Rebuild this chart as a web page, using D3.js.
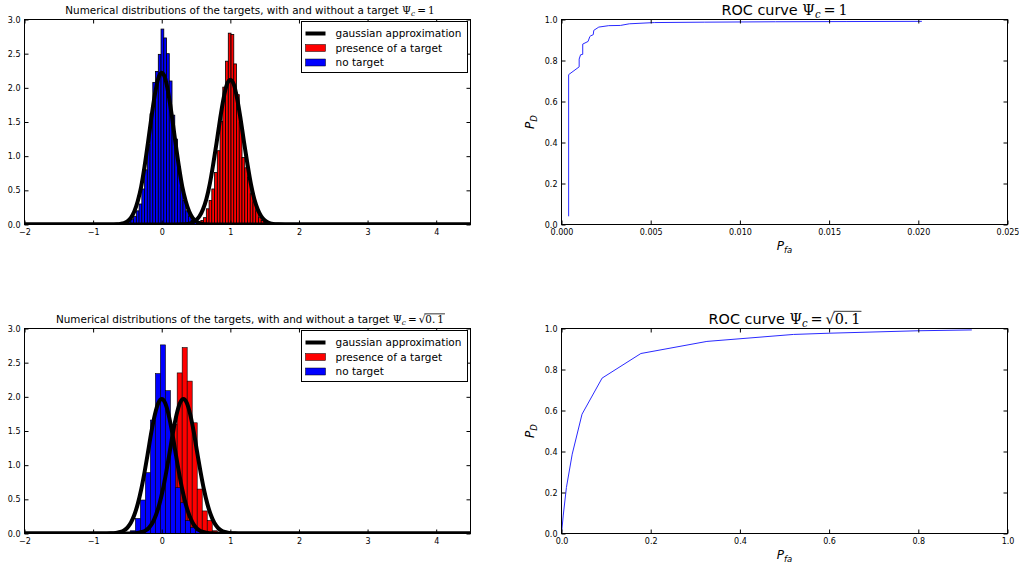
<!DOCTYPE html>
<html><head><meta charset="utf-8">
<script src="https://cdn.jsdelivr.net/npm/d3@7"></script>
<style>
body{margin:0;background:#fff}
svg{display:block}
text{font-family:"DejaVu Sans",sans-serif}
</style>
</head><body>
<svg id="c" width="1019" height="565"></svg>
<script>
// ---------------- DATA ----------------
const histXTicks = [-2, -1, 0, 1, 2, 3, 4];
const histYTicks = [0, 0.5, 1, 1.5, 2, 2.5, 3];
const rocTopXTicks = [0, 0.005, 0.01, 0.015, 0.02, 0.025];
const rocBottomXTicks = [0, 0.2, 0.4, 0.6, 0.8, 1.0];
const rocYTicks = [0, 0.2, 0.4, 0.6, 0.8, 1.0];
const legendLabels = ["gaussian approximation", "presence of a target", "no target"];

// top histogram (Psi_c = 1), bins of width 0.04
const topBinWidth = 0.04;
const topRedStart = 0.57;
const topRedHeights = [0.06, 0.10, 0.23, 0.35, 0.52, 0.76, 1.08, 1.51, 2.01, 2.39, 2.80, 2.78, 2.35, 1.90, 1.50, 0.98, 0.83, 0.69, 0.45, 0.33, 0.20, 0.10, 0.06, 0.03];
const topBlueStart = -0.61;
const topBlueHeights = [0.03, 0.03, 0.04, 0.05, 0.08, 0.12, 0.20, 0.30, 0.52, 0.80, 1.17, 1.62, 2.08, 2.24, 2.49, 2.86, 2.73, 2.50, 2.10, 1.60, 1.25, 0.85, 0.55, 0.35, 0.20, 0.12, 0.06, 0.04, 0.02];

// bottom histogram (Psi_c = sqrt(0.1)), bins of width 0.073
const bottomBinWidth = 0.073;
const bottomRedStart = -0.359;
const bottomRedHeights = [0.02, 0.05, 0.10, 0.20, 0.40, 0.70, 1.10, 1.60, 2.35, 2.72, 2.23, 1.62, 0.65, 0.33, 0.19, 0.04];
const bottomBlueStart = -0.457;
const bottomBlueHeights = [0.04, 0.22, 0.49, 0.89, 1.66, 2.34, 2.76, 2.09, 1.30, 0.67, 0.45, 0.19, 0.09, 0.04];

// gaussian approximation curves
const topGaussBlueX = [-2, -0.8, -0.7, -0.65, -0.6, -0.55, -0.5, -0.45, -0.4, -0.35, -0.3, -0.25, -0.2, -0.15, -0.1, -0.05, 0, 0.05, 0.1, 0.15, 0.2, 0.25, 0.3, 0.35, 0.4, 0.45, 0.5, 0.55, 0.6, 0.65, 0.7, 0.8, 4.5];
const topGaussBlueY = [0, 0, 0.001, 0.003, 0.009, 0.021, 0.047, 0.098, 0.19, 0.34, 0.55, 0.85, 1.20, 1.57, 1.90, 2.14, 2.22, 2.14, 1.90, 1.57, 1.20, 0.85, 0.55, 0.34, 0.19, 0.098, 0.047, 0.021, 0.009, 0.003, 0.001, 0, 0];
const topGaussRedX = [-2, 0.2, 0.3, 0.35, 0.4, 0.45, 0.5, 0.55, 0.6, 0.65, 0.7, 0.75, 0.8, 0.85, 0.9, 0.95, 1, 1.05, 1.1, 1.15, 1.2, 1.25, 1.3, 1.35, 1.4, 1.45, 1.5, 1.55, 1.6, 1.65, 1.7, 1.8, 4.5];
const topGaussRedY = [0, 0, 0.002, 0.005, 0.013, 0.029, 0.062, 0.12, 0.22, 0.37, 0.59, 0.88, 1.20, 1.54, 1.84, 2.05, 2.12, 2.05, 1.84, 1.54, 1.20, 0.88, 0.59, 0.37, 0.22, 0.12, 0.062, 0.029, 0.013, 0.005, 0.002, 0, 0];
const bottomGaussBlueX = [-2, -0.8, -0.75, -0.7, -0.65, -0.6, -0.55, -0.5, -0.45, -0.4, -0.35, -0.3, -0.25, -0.2, -0.15, -0.1, -0.05, 0, 0.05, 0.1, 0.15, 0.2, 0.25, 0.3, 0.35, 0.4, 0.45, 0.5, 0.55, 0.6, 0.65, 0.7, 0.75, 0.8, 4.5];
const bottomGaussBlueY = [0, 0.001, 0.002, 0.004, 0.01, 0.022, 0.045, 0.087, 0.157, 0.27, 0.43, 0.64, 0.90, 1.19, 1.49, 1.74, 1.91, 1.97, 1.91, 1.74, 1.49, 1.19, 0.90, 0.64, 0.43, 0.27, 0.157, 0.087, 0.045, 0.022, 0.01, 0.004, 0.002, 0.001, 0];
const bottomGaussRedX = [-2, -0.484, -0.434, -0.384, -0.334, -0.284, -0.234, -0.184, -0.134, -0.084, -0.034, 0.016, 0.066, 0.116, 0.166, 0.216, 0.266, 0.316, 0.366, 0.416, 0.466, 0.516, 0.566, 0.616, 0.666, 0.716, 0.766, 0.816, 0.866, 0.916, 0.966, 1.016, 1.066, 1.116, 4.5];
const bottomGaussRedY = [0, 0.001, 0.002, 0.004, 0.01, 0.022, 0.045, 0.087, 0.157, 0.27, 0.43, 0.64, 0.90, 1.19, 1.49, 1.74, 1.91, 1.97, 1.91, 1.74, 1.49, 1.19, 0.90, 0.64, 0.43, 0.27, 0.157, 0.087, 0.045, 0.022, 0.01, 0.004, 0.002, 0.001, 0];

// ROC curves
const rocTopPfa = [0.0004, 0.0004, 0.00099, 0.00099, 0.00107, 0.00119, 0.00119, 0.00149, 0.00159, 0.00163, 0.00178, 0.00181, 0.00209, 0.00265, 0.0033, 0.0038, 0.0052, 0.008, 0.012, 0.016, 0.0202];
const rocTopPd  = [0.04, 0.731, 0.769, 0.807, 0.828, 0.83, 0.880, 0.893, 0.917, 0.92, 0.926, 0.947, 0.963, 0.970, 0.971, 0.979, 0.985, 0.987, 0.989, 0.990, 0.991];
const rocBottomPfa = [0, 0.004, 0.011, 0.024, 0.046, 0.091, 0.178, 0.326, 0.52, 0.6, 0.8, 0.92];
const rocBottomPd  = [0, 0.09, 0.224, 0.387, 0.582, 0.758, 0.878, 0.937, 0.971, 0.977, 0.989, 0.993];

// ---------------- DRAW ----------------
const svg = d3.select("#c");
const TICK_FS = 8;

function frameAxes(g, x, y, xt, yt, xfmt, yfmt, L, T, R, B) {
  const ax = (gen, tx, ty, fmt, pad) => {
    const a = g.append("g").attr("transform", `translate(${tx},${ty})`)
      .call(gen.tickSizeInner(-4).tickSizeOuter(0).tickPadding(pad).tickFormat(fmt));
    a.select(".domain").remove();
    a.attr("font-family", "DejaVu Sans").attr("font-size", TICK_FS);
    a.selectAll("line").attr("stroke", "#000");
    a.selectAll("text").attr("fill", "#000");
    return a;
  };
  ax(d3.axisBottom(x).tickValues(xt), 0, B, xfmt, 5);
  ax(d3.axisTop(x).tickValues(xt), 0, T, () => "", 4);
  ax(d3.axisLeft(y).tickValues(yt), L, 0, yfmt, 4);
  ax(d3.axisRight(y).tickValues(yt), R, 0, () => "", 4);
  g.append("rect").attr("x", L).attr("y", T).attr("width", R - L).attr("height", B - T)
    .attr("fill", "none").attr("stroke", "#000").attr("stroke-width", 1);
}

// title: prefix in sans + math part (Psi_c = rhs)
function mathTitle(cx, baseline, prefix, fs, rhs, sqrt) {
  const t = svg.append("text").attr("x", 0).attr("y", baseline).attr("font-size", fs).attr("fill", "#000");
  t.append("tspan").text(prefix);
  t.append("tspan").attr("font-family", "DejaVu Serif").text("Ψ");
  t.append("tspan").attr("font-family", "DejaVu Serif").attr("font-style", "italic")
    .attr("font-size", fs * 0.7).attr("dy", fs * 0.22).text("c");
  t.append("tspan").attr("font-family", "DejaVu Serif").attr("dy", -fs * 0.22).text(sqrt ? "\u2009=\u2009√" : "\u2009=\u20091");
  if (sqrt) t.append("tspan").attr("font-family", "DejaVu Serif").text(rhs);
  const w = t.node().getComputedTextLength();
  t.attr("x", cx - w / 2);
  if (sqrt) {
    const n = t.node().getNumberOfChars();
    const k = rhs.length;
    const s = t.node().getStartPositionOfChar(n - k);
    const e = t.node().getEndPositionOfChar(n - 1);
    svg.append("line").attr("x1", s.x - 1).attr("x2", e.x + 1)
      .attr("y1", baseline - fs * 0.88).attr("y2", baseline - fs * 0.88)
      .attr("stroke", "#000").attr("stroke-width", 0.8);
  }
}

function histPanel(o) {
  const L = 24.5, R = 470.5, T = o.top + 0.5, B = o.top + 205.5;
  const x = d3.scaleLinear().domain([-2, 4.5]).range([L, R]);
  const y = d3.scaleLinear().domain([0, 3]).range([B, T]);
  const g = svg.append("g");
  const clipId = "clip" + o.id;
  g.append("clipPath").attr("id", clipId).append("rect")
    .attr("x", L).attr("y", T).attr("width", R - L).attr("height", B - T);
  const pg = g.append("g").attr("clip-path", `url(#${clipId})`);
  const bars = (start, w, hs, color) => {
    pg.append("g").selectAll("rect").data(hs).join("rect")
      .attr("x", (d, i) => x(start + i * w))
      .attr("width", (d, i) => x(start + (i + 1) * w) - x(start + i * w))
      .attr("y", d => y(d)).attr("height", d => y(0) - y(d))
      .attr("fill", color).attr("stroke", "#000").attr("stroke-width", o.edge);
  };
  bars(o.redStart, o.binW, o.redH, "#ff0000");
  bars(o.blueStart, o.binW, o.blueH, "#0000ff");
  const line = d3.line().x(d => x(d[0])).y(d => y(d[1])).curve(d3.curveMonotoneX);
  [[o.gbx, o.gby], [o.grx, o.gry]].forEach(([xs, ys]) => {
    pg.append("path").datum(xs.map((v, i) => [v, ys[i]])).attr("d", line)
      .attr("fill", "none").attr("stroke", "#000").attr("stroke-width", 4).attr("stroke-linejoin", "round");
  });
  frameAxes(g, x, y, histXTicks, histYTicks, d3.format(""), d3.format(".1f"), L, T, R, B);
  // legend
  const lx = 301.5, ly = o.top + 2.5;
  const lg = g.append("g");
  lg.append("rect").attr("x", lx).attr("y", ly).attr("width", 166).attr("height", 51)
    .attr("fill", "#fff").attr("stroke", "#000").attr("stroke-width", 1);
  const rowY = [ly + 12, ly + 26.5, ly + 41];
  lg.append("line").attr("x1", lx + 4).attr("x2", lx + 24).attr("y1", rowY[0]).attr("y2", rowY[0])
    .attr("stroke", "#000").attr("stroke-width", 4);
  lg.append("rect").attr("x", lx + 4).attr("y", rowY[1] - 3.5).attr("width", 20).attr("height", 7)
    .attr("fill", "#ff0000").attr("stroke", "#000").attr("stroke-width", 0.5);
  lg.append("rect").attr("x", lx + 4).attr("y", rowY[2] - 3.5).attr("width", 20).attr("height", 7)
    .attr("fill", "#0000ff").attr("stroke", "#000").attr("stroke-width", 0.5);
  legendLabels.forEach((s, i) => {
    lg.append("text").attr("x", lx + 34).attr("y", rowY[i]).attr("dy", "0.36em")
      .attr("font-size", 10.5).attr("fill", "#000").text(s);
  });
  mathTitle(250, o.top - 5, "Numerical distributions of the targets, with and without a target ", 10.4, o.rhs, o.sqrt);
}

function rocPanel(o) {
  const L = 561.5, R = 1007.5, T = o.top + 0.5, B = o.top + 205.5;
  const x = d3.scaleLinear().domain(o.xDomain).range([L, R]);
  const y = d3.scaleLinear().domain([0, 1]).range([B, T]);
  const g = svg.append("g");
  g.append("path").datum(o.px.map((v, i) => [v, o.py[i]]))
    .attr("d", d3.line().x(d => x(d[0])).y(d => y(d[1])))
    .attr("fill", "none").attr("stroke", "#2a2aff").attr("stroke-width", 1);
  frameAxes(g, x, y, o.xTicks, rocYTicks, d3.format(o.xfmt), d3.format(".1f"), L, T, R, B);
  // axis labels
  const yl = g.append("text").attr("transform", `translate(534,${(T + B) / 2}) rotate(-90)`)
    .attr("text-anchor", "middle").attr("font-family", "DejaVu Serif").attr("font-style", "italic")
    .attr("font-size", 12).attr("fill", "#000");
  yl.append("tspan").text("P");
  yl.append("tspan").attr("font-size", 8.5).attr("dy", 3).text("D");
  const xl = g.append("text").attr("x", (L + R) / 2).attr("y", B + 25)
    .attr("text-anchor", "middle").attr("font-family", "DejaVu Serif").attr("font-style", "italic")
    .attr("font-size", 12).attr("fill", "#000");
  xl.append("tspan").text("P");
  xl.append("tspan").attr("font-size", 8.5).attr("dy", 3).text("fa");
  mathTitle((L + R) / 2, o.top - 4, "ROC curve ", 14.4, o.rhs, o.sqrt);
}

histPanel({id: "a", top: 19, binW: topBinWidth, edge: 0.8, redStart: topRedStart, redH: topRedHeights,
  blueStart: topBlueStart, blueH: topBlueHeights, gbx: topGaussBlueX, gby: topGaussBlueY,
  grx: topGaussRedX, gry: topGaussRedY, rhs: "1", sqrt: false});
histPanel({id: "b", top: 328, binW: bottomBinWidth, edge: 0.6, redStart: bottomRedStart, redH: bottomRedHeights,
  blueStart: bottomBlueStart, blueH: bottomBlueHeights, gbx: bottomGaussBlueX, gby: bottomGaussBlueY,
  grx: bottomGaussRedX, gry: bottomGaussRedY, rhs: "0.\u20091", sqrt: true});
rocPanel({top: 19, xDomain: [0, 0.025], xTicks: rocTopXTicks, xfmt: ".3f", px: rocTopPfa, py: rocTopPd, rhs: "1", sqrt: false});
rocPanel({top: 328, xDomain: [0, 1], xTicks: rocBottomXTicks, xfmt: ".1f", px: rocBottomPfa, py: rocBottomPd, rhs: "0.\u20091", sqrt: true});
</script>
</body></html>
